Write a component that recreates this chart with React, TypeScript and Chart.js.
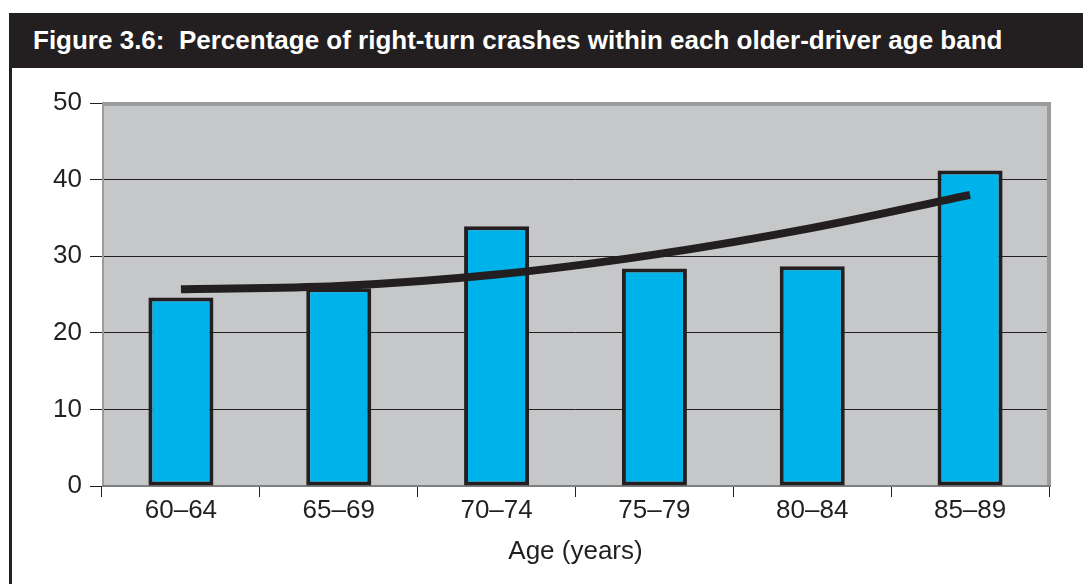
import React, { useEffect, useRef } from "react";
import { Chart, registerables } from "chart.js";

Chart.register(...registerables);

const TITLE = "Figure 3.6:  Percentage of right-turn crashes within each older-driver age band";
const X_TITLE = "Age (years)";
const categories = ["60–64", "65–69", "70–74", "75–79", "80–84", "85–89"];
const crashPercent = [24.6, 25.8, 33.9, 28.4, 28.7, 41.2];
const trendPercent = [25.7, 26.1, 27.6, 30.2, 33.7, 38.0];
const yMin = 0;
const yMax = 50;
const yStep = 10;

const FONT = "'Liberation Sans', Arial, Helvetica, sans-serif";
const INK = "#231f20";

const plotFrame = {
  id: "plotFrame",
  beforeDraw(chart: any) {
    const { ctx, chartArea: a } = chart;
    ctx.save();
    ctx.fillStyle = "#c6c7c9";
    ctx.fillRect(a.left, a.top, a.right - a.left, a.bottom - a.top);
    ctx.restore();
  },
  beforeDatasetsDraw(chart: any) {
    const { ctx, chartArea: a } = chart;
    ctx.save();
    ctx.fillStyle = "#9a9b9d";
    ctx.fillRect(a.left, a.top - 1, a.right - a.left + 2, 4);
    ctx.fillRect(a.right - 2, a.top - 1, 4, a.bottom - a.top + 1);
    ctx.fillRect(a.left, a.top, 2, a.bottom - a.top);
    ctx.fillStyle = "#7d7e80";
    ctx.fillRect(a.left, a.bottom - 1, a.right - a.left + 2, 2);
    ctx.restore();
  },
};

export default function App() {
  const ref = useRef<HTMLCanvasElement | null>(null);

  useEffect(() => {
    if (!ref.current) return;
    const font = { family: FONT, size: 26 };
    const chart = new Chart(ref.current, {
      data: {
        labels: categories,
        datasets: [
          {
            type: "line",
            data: trendPercent,
            borderColor: INK,
            borderWidth: 8,
            pointRadius: 0,
            cubicInterpolationMode: "monotone",
            borderCapStyle: "butt",
            order: 1,
          } as any,
          {
            type: "bar",
            data: crashPercent,
            backgroundColor: "#00b2ea",
            borderColor: INK,
            borderWidth: 4,
            borderSkipped: false,
            barPercentage: 0.412,
            categoryPercentage: 1,
            order: 2,
          } as any,
        ],
      },
      options: {
        responsive: false,
        animation: false,
        devicePixelRatio: 1,
        layout: { padding: { top: 35, right: 34, left: 0, bottom: 0 } },
        plugins: {
          legend: { display: false },
          tooltip: { enabled: false },
          title: { display: false },
        },
        scales: {
          x: {
            offset: true,
            grid: {
              offset: true,
              drawOnChartArea: false,
              drawTicks: true,
              tickLength: 11,
              color: INK,
              lineWidth: 1,
            },
            border: { display: false },
            ticks: {
              font,
              color: INK,
              padding: -2,
              maxRotation: 0,
              autoSkip: false,
            },
            title: {
              display: true,
              text: X_TITLE,
              font,
              color: INK,
              padding: { top: 0, bottom: 17 },
            },
            afterFit: (s: any) => {
              s.height = 98;
            },
          },
          y: {
            min: yMin,
            max: yMax,
            ticks: { stepSize: yStep, font, color: INK, padding: 8 },
            grid: { color: INK, tickColor: INK, tickLength: 12, lineWidth: 1 },
            border: { display: false },
            afterFit: (s: any) => {
              s.width = 102;
            },
          },
        },
      } as any,
      plugins: [plotFrame],
    });
    return () => chart.destroy();
  }, []);

  return (
    <div
      style={{
        position: "absolute",
        left: 0,
        top: 0,
        width: 1083,
        height: 584,
        background: "#fff",
        overflow: "hidden",
      }}
    >
      <canvas
        ref={ref}
        width={1083}
        height={516}
        style={{ position: "absolute", left: 0, top: 68, width: 1083, height: 516 }}
      />
      <div
        style={{
          position: "absolute",
          left: 9,
          top: 13,
          width: 1074,
          height: 55,
          boxSizing: "border-box",
          paddingLeft: 24,
          background: INK,
          color: "#fff",
          fontFamily: FONT,
          fontWeight: "bold",
          fontSize: 26,
          lineHeight: "55px",
          whiteSpace: "pre",
        }}
      >
        {TITLE}
      </div>
      <div
        style={{
          position: "absolute",
          left: 9,
          top: 68,
          width: 3,
          height: 516,
          background: INK,
        }}
      />
    </div>
  );
}
